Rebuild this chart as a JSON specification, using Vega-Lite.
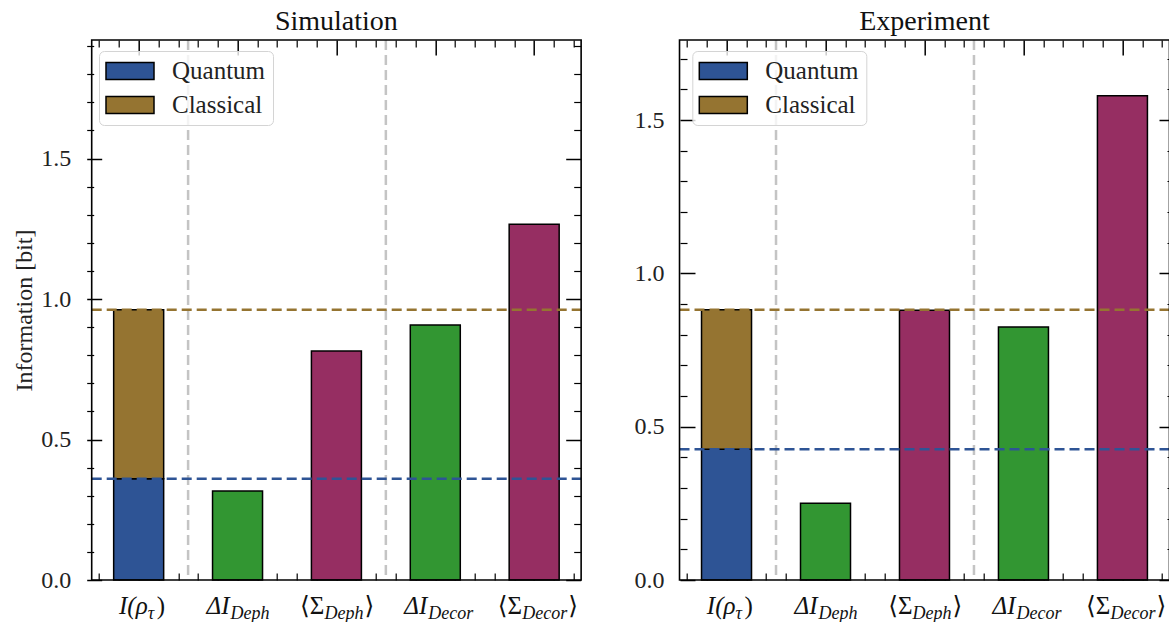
{
  "$schema": "https://vega.github.io/schema/vega-lite/v6.json",
  "autosize": {"type": "none"},
  "padding": {"left": 86.7, "top": 40, "right": 0, "bottom": 42},
  "width": 1082.3,
  "height": 540,
  "background": "white",
  "datasets": {
    "sim": [
      {"idx": 0, "part": "Quantum", "value": 0.3605},
      {"idx": 0, "part": "Classical", "value": 0.6015},
      {"idx": 1, "part": "ΔI", "value": 0.317},
      {"idx": 2, "part": "⟨Σ⟩", "value": 0.815},
      {"idx": 3, "part": "ΔI", "value": 0.9075},
      {"idx": 4, "part": "⟨Σ⟩", "value": 1.266}
    ],
    "exp": [
      {"idx": 0, "part": "Quantum", "value": 0.426},
      {"idx": 0, "part": "Classical", "value": 0.455},
      {"idx": 1, "part": "ΔI", "value": 0.25},
      {"idx": 2, "part": "⟨Σ⟩", "value": 0.88},
      {"idx": 3, "part": "ΔI", "value": 0.825},
      {"idx": 4, "part": "⟨Σ⟩", "value": 1.579}
    ],
    "simLevels": [{"level": "Quantum", "value": 0.3605}, {"level": "Total", "value": 0.962}],
    "expLevels": [{"level": "Quantum", "value": 0.426}, {"level": "Total", "value": 0.881}],
    "seps": [{"sep": 0.5}, {"sep": 2.5}],
    "labels": [
      {"idx": 0, "pre": "I(ρ", "sub": "τ", "post": ")"},
      {"idx": 1, "pre": "ΔI", "sub": "Deph", "post": ""},
      {"idx": 2, "pre": "⟨Σ", "sub": "Deph", "post": "⟩"},
      {"idx": 3, "pre": "ΔI", "sub": "Decor", "post": ""},
      {"idx": 4, "pre": "⟨Σ", "sub": "Decor", "post": "⟩"}
    ],
    "one": [{}]
  },
  "layer": [
    {
      "layer": [
        {
          "data": {"name": "sim"},
          "mark": {"type": "bar", "stroke": "black", "strokeWidth": 1.5, "width": 50},
          "encoding": {
            "x": {"field": "idx", "type": "quantitative", "scale": {"domain": [-0.475, 10.37], "nice": false, "zero": false},
                  "axis": {"orient": "bottom", "values": [0, 1, 2, 3, 4], "labels": false, "tickSize": -15, "tickWidth": 1.5, "domain": false, "title": null}},
            "y": {"field": "value", "type": "quantitative", "stack": "zero", "scale": {"domain": [0, 1.922], "nice": false},
                  "axis": {"orient": "left", "values": [0, 0.5, 1, 1.5], "format": ".1f", "labels": true, "tickSize": -15, "tickWidth": 1.5, "labelPadding": 31, "domain": false, "title": "Information [bit]", "titlePadding": 4}},
            "color": {"field": "part", "type": "nominal",
                      "scale": {"domain": ["Quantum", "Classical", "ΔI", "⟨Σ⟩"], "range": ["#2e5495", "#957431", "#329632", "#962e62"]},
                      "legend": {"values": ["Quantum", "Classical"], "orient": "none", "legendX": 12.3, "legendY": 11, "title": null, "symbolType": "M-2,-0.708H2V0.708H-2Z", "symbolSize": 576, "symbolOffset": 11, "symbolStrokeColor": "black", "symbolStrokeWidth": 1.5, "symbolOpacity": 1, "labelFont": "Liberation Serif, DejaVu Serif, serif", "labelFontSize": 25, "labelColor": "#222", "labelOffset": 29, "padding": 7, "strokeColor": "#d4d4d4", "fillColor": "rgba(255,255,255,0.8)", "cornerRadius": 5, "rowPadding": 8, "zindex": 2}},
            "order": {"field": "part", "sort": "descending"}
          }
        },
        {
          "data": {"name": "seps"},
          "mark": {"type": "rule", "color": "#c4c4c4", "strokeWidth": 2.5, "strokeDash": [10, 5]},
          "encoding": {"x": {"field": "sep", "type": "quantitative", "axis": {"orient": "top", "values": [0, 1, 2, 3, 4], "labels": false, "tickSize": -15, "tickWidth": 1.5, "domain": false, "title": null}}}
        },
        {
          "data": {"name": "simLevels"},
          "transform": [{"filter": "datum.level === 'Quantum'"}],
          "mark": {"type": "rule", "color": "#2e5495", "strokeWidth": 2.5, "strokeDash": [10, 5]},
          "encoding": {
            "x": {"datum": -0.475, "type": "quantitative", "axis": null},
            "x2": {"datum": 4.475},
            "y": {"field": "value", "type": "quantitative", "axis": {"orient": "right", "offset": -588.3, "values": [0, 0.5, 1, 1.5], "labels": false, "tickSize": -15, "tickWidth": 1.5, "domain": false, "title": null}}
          }
        },
        {
          "data": {"name": "simLevels"},
          "transform": [{"filter": "datum.level === 'Total'"}],
          "mark": {"type": "rule", "color": "#957431", "strokeWidth": 2.5, "strokeDash": [10, 5]},
          "encoding": {
            "x": {"datum": -0.475, "type": "quantitative", "axis": null},
            "x2": {"datum": 4.475},
            "y": {"field": "value", "type": "quantitative", "axis": {"orient": "left", "values": [0.1, 0.2, 0.3, 0.4, 0.6, 0.7, 0.8, 0.9, 1.1, 1.2, 1.3, 1.4, 1.6, 1.7, 1.8, 1.9], "labels": false, "tickSize": -7, "tickWidth": 1.2, "domain": false, "title": null}}
          }
        },
        {
          "data": {"name": "labels"},
          "transform": [{"filter": "datum.idx === 0"}],
          "mark": {"type": "text", "align": "right", "baseline": "alphabetic", "dx": 9, "dy": 34, "font": "Liberation Serif, DejaVu Serif, serif", "fontSize": 25, "fontStyle": "italic", "color": "#111"},
          "encoding": {
            "x": {"field": "idx", "type": "quantitative", "axis": {"orient": "bottom", "values": [-0.4, -0.2, 0.2, 0.4, 0.6, 0.8, 1.2, 1.4, 1.6, 1.8, 2.2, 2.4, 2.6, 2.8, 3.2, 3.4, 3.6, 3.8, 4.2, 4.4], "labels": false, "tickSize": -7, "tickWidth": 1.2, "domain": false, "title": null}},
            "y": {"datum": 0, "type": "quantitative", "axis": {"orient": "right", "offset": -588.3, "values": [0.1, 0.2, 0.3, 0.4, 0.6, 0.7, 0.8, 0.9, 1.1, 1.2, 1.3, 1.4, 1.6, 1.7, 1.8, 1.9], "labels": false, "tickSize": -7, "tickWidth": 1.2, "domain": false, "title": null}},
            "text": {"field": "pre"}
          }
        },
        {
          "data": {"name": "labels"},
          "transform": [{"filter": "datum.idx === 1 || datum.idx === 3"}],
          "mark": {"type": "text", "align": "right", "baseline": "alphabetic", "dx": -8, "dy": 34, "font": "Liberation Serif, DejaVu Serif, serif", "fontSize": 25, "fontStyle": "italic", "color": "#111"},
          "encoding": {
            "x": {"field": "idx", "type": "quantitative", "axis": {"orient": "top", "values": [-0.4, -0.2, 0.2, 0.4, 0.6, 0.8, 1.2, 1.4, 1.6, 1.8, 2.2, 2.4, 2.6, 2.8, 3.2, 3.4, 3.6, 3.8, 4.2, 4.4], "labels": false, "tickSize": -7, "tickWidth": 1.2, "domain": false, "title": null}},
            "y": {"datum": 0, "type": "quantitative", "axis": null},
            "text": {"field": "pre"}
          }
        },
        {
          "data": {"name": "labels"},
          "transform": [{"filter": "datum.idx === 2 || datum.idx === 4"}],
          "mark": {"type": "text", "align": "right", "baseline": "alphabetic", "dx": -12, "dy": 34, "font": "Liberation Serif, DejaVu Serif, serif", "fontSize": 25, "color": "#111"},
          "encoding": {
            "x": {"field": "idx", "type": "quantitative", "axis": null},
            "y": {"datum": 0, "type": "quantitative", "axis": null},
            "text": {"field": "pre"}
          }
        },
        {
          "data": {"name": "labels"},
          "transform": [{"filter": "datum.idx === 0"}],
          "mark": {"type": "text", "align": "left", "baseline": "alphabetic", "dx": 9, "dy": 39, "font": "Liberation Serif, DejaVu Serif, serif", "fontSize": 18, "fontStyle": "italic", "color": "#111"},
          "encoding": {
            "x": {"field": "idx", "type": "quantitative", "axis": null},
            "y": {"datum": 0, "type": "quantitative", "axis": null},
            "text": {"field": "sub"}
          }
        },
        {
          "data": {"name": "labels"},
          "transform": [{"filter": "datum.idx === 1 || datum.idx === 3"}],
          "mark": {"type": "text", "align": "left", "baseline": "alphabetic", "dx": -7, "dy": 39, "font": "Liberation Serif, DejaVu Serif, serif", "fontSize": 18, "fontStyle": "italic", "color": "#111"},
          "encoding": {
            "x": {"field": "idx", "type": "quantitative", "axis": null},
            "y": {"datum": 0, "type": "quantitative", "axis": null},
            "text": {"field": "sub"}
          }
        },
        {
          "data": {"name": "labels"},
          "transform": [{"filter": "datum.idx === 2 || datum.idx === 4"}],
          "mark": {"type": "text", "align": "left", "baseline": "alphabetic", "dx": -12, "dy": 39, "font": "Liberation Serif, DejaVu Serif, serif", "fontSize": 18, "fontStyle": "italic", "color": "#111"},
          "encoding": {
            "x": {"field": "idx", "type": "quantitative", "axis": null},
            "y": {"datum": 0, "type": "quantitative", "axis": null},
            "text": {"field": "sub"}
          }
        },
        {
          "data": {"name": "labels"},
          "transform": [{"filter": "datum.idx === 0"}],
          "mark": {"type": "text", "align": "left", "baseline": "alphabetic", "dx": 18, "dy": 34, "font": "Liberation Serif, DejaVu Serif, serif", "fontSize": 25, "color": "#111"},
          "encoding": {
            "x": {"field": "idx", "type": "quantitative", "axis": null},
            "y": {"datum": 0, "type": "quantitative", "axis": null},
            "text": {"field": "post"}
          }
        },
        {
          "data": {"name": "labels"},
          "transform": [{"filter": "datum.idx === 2"}],
          "mark": {"type": "text", "align": "left", "baseline": "alphabetic", "dx": 28, "dy": 34, "font": "Liberation Serif, DejaVu Serif, serif", "fontSize": 25, "color": "#111"},
          "encoding": {
            "x": {"field": "idx", "type": "quantitative", "axis": null},
            "y": {"datum": 0, "type": "quantitative", "axis": null},
            "text": {"field": "post"}
          }
        },
        {
          "data": {"name": "labels"},
          "transform": [{"filter": "datum.idx === 4"}],
          "mark": {"type": "text", "align": "left", "baseline": "alphabetic", "dx": 34, "dy": 34, "font": "Liberation Serif, DejaVu Serif, serif", "fontSize": 25, "color": "#111"},
          "encoding": {
            "x": {"field": "idx", "type": "quantitative", "axis": null},
            "y": {"datum": 0, "type": "quantitative", "axis": null},
            "text": {"field": "post"}
          }
        },
        {
          "data": {"name": "one"},
          "mark": {"type": "text", "align": "center", "baseline": "alphabetic", "dy": -10, "font": "Liberation Serif, DejaVu Serif, serif", "fontSize": 28, "color": "#111"},
          "encoding": {
            "x": {"datum": 2, "type": "quantitative", "axis": null},
            "y": {"datum": 1.922, "type": "quantitative", "axis": null},
            "text": {"value": "Simulation"}
          }
        },
        {
          "data": {"name": "one"},
          "mark": {"type": "rect", "fill": "transparent", "stroke": "black", "strokeWidth": 1.6},
          "encoding": {
            "x": {"datum": -0.475, "type": "quantitative", "axis": null},
            "x2": {"datum": 4.475},
            "y": {"datum": 0, "type": "quantitative", "axis": null},
            "y2": {"datum": 1.922}
          }
        }
      ],
      "resolve": {"axis": {"x": "independent", "y": "independent"}}
    },
    {
      "layer": [
        {
          "data": {"name": "exp"},
          "mark": {"type": "bar", "stroke": "black", "strokeWidth": 1.5, "width": 50},
          "encoding": {
            "x": {"field": "idx", "type": "quantitative", "scale": {"domain": [-6.414, 4.42], "nice": false, "zero": false},
                  "axis": {"orient": "bottom", "values": [0, 1, 2, 3, 4], "labels": false, "tickSize": -15, "tickWidth": 1.5, "domain": false, "title": null}},
            "y": {"field": "value", "type": "quantitative", "stack": "zero", "scale": {"domain": [0, 1.761], "nice": false},
                  "axis": {"orient": "left", "offset": -593.3, "values": [0, 0.5, 1, 1.5], "format": ".1f", "labels": true, "tickSize": -15, "tickWidth": 1.5, "labelPadding": 31, "domain": false, "title": null}},
            "color": {"field": "part", "type": "nominal",
                      "scale": {"domain": ["Quantum", "Classical", "ΔI", "⟨Σ⟩"], "range": ["#2e5495", "#957431", "#329632", "#962e62"]},
                      "legend": {"values": ["Quantum", "Classical"], "orient": "none", "legendX": 605.6, "legendY": 11, "title": null, "symbolType": "M-2,-0.708H2V0.708H-2Z", "symbolSize": 576, "symbolOffset": 11, "symbolStrokeColor": "black", "symbolStrokeWidth": 1.5, "symbolOpacity": 1, "labelFont": "Liberation Serif, DejaVu Serif, serif", "labelFontSize": 25, "labelColor": "#222", "labelOffset": 29, "padding": 7, "strokeColor": "#d4d4d4", "fillColor": "rgba(255,255,255,0.8)", "cornerRadius": 5, "rowPadding": 8, "zindex": 2}},
            "order": {"field": "part", "sort": "descending"}
          }
        },
        {
          "data": {"name": "seps"},
          "mark": {"type": "rule", "color": "#c4c4c4", "strokeWidth": 2.5, "strokeDash": [10, 5]},
          "encoding": {"x": {"field": "sep", "type": "quantitative", "axis": {"orient": "top", "values": [0, 1, 2, 3, 4], "labels": false, "tickSize": -15, "tickWidth": 1.5, "domain": false, "title": null}}}
        },
        {
          "data": {"name": "expLevels"},
          "transform": [{"filter": "datum.level === 'Quantum'"}],
          "mark": {"type": "rule", "color": "#2e5495", "strokeWidth": 2.5, "strokeDash": [10, 5]},
          "encoding": {
            "x": {"datum": -0.475, "type": "quantitative", "axis": null},
            "x2": {"datum": 4.475},
            "y": {"field": "value", "type": "quantitative", "axis": {"orient": "right", "offset": 5, "values": [0, 0.5, 1, 1.5], "labels": false, "tickSize": -15, "tickWidth": 1.5, "domain": false, "title": null}}
          }
        },
        {
          "data": {"name": "expLevels"},
          "transform": [{"filter": "datum.level === 'Total'"}],
          "mark": {"type": "rule", "color": "#957431", "strokeWidth": 2.5, "strokeDash": [10, 5]},
          "encoding": {
            "x": {"datum": -0.475, "type": "quantitative", "axis": null},
            "x2": {"datum": 4.475},
            "y": {"field": "value", "type": "quantitative", "axis": {"orient": "left", "offset": -593.3, "values": [0.1, 0.2, 0.3, 0.4, 0.6, 0.7, 0.8, 0.9, 1.1, 1.2, 1.3, 1.4, 1.6, 1.7], "labels": false, "tickSize": -7, "tickWidth": 1.2, "domain": false, "title": null}}
          }
        },
        {
          "data": {"name": "labels"},
          "transform": [{"filter": "datum.idx === 0"}],
          "mark": {"type": "text", "align": "right", "baseline": "alphabetic", "dx": 9, "dy": 34, "font": "Liberation Serif, DejaVu Serif, serif", "fontSize": 25, "fontStyle": "italic", "color": "#111"},
          "encoding": {
            "x": {"field": "idx", "type": "quantitative", "axis": {"orient": "bottom", "values": [-0.4, -0.2, 0.2, 0.4, 0.6, 0.8, 1.2, 1.4, 1.6, 1.8, 2.2, 2.4, 2.6, 2.8, 3.2, 3.4, 3.6, 3.8, 4.2, 4.4], "labels": false, "tickSize": -7, "tickWidth": 1.2, "domain": false, "title": null}},
            "y": {"datum": 0, "type": "quantitative", "axis": {"orient": "right", "offset": 5, "values": [0.1, 0.2, 0.3, 0.4, 0.6, 0.7, 0.8, 0.9, 1.1, 1.2, 1.3, 1.4, 1.6, 1.7], "labels": false, "tickSize": -7, "tickWidth": 1.2, "domain": false, "title": null}},
            "text": {"field": "pre"}
          }
        },
        {
          "data": {"name": "labels"},
          "transform": [{"filter": "datum.idx === 1 || datum.idx === 3"}],
          "mark": {"type": "text", "align": "right", "baseline": "alphabetic", "dx": -8, "dy": 34, "font": "Liberation Serif, DejaVu Serif, serif", "fontSize": 25, "fontStyle": "italic", "color": "#111"},
          "encoding": {
            "x": {"field": "idx", "type": "quantitative", "axis": {"orient": "top", "values": [-0.4, -0.2, 0.2, 0.4, 0.6, 0.8, 1.2, 1.4, 1.6, 1.8, 2.2, 2.4, 2.6, 2.8, 3.2, 3.4, 3.6, 3.8, 4.2, 4.4], "labels": false, "tickSize": -7, "tickWidth": 1.2, "domain": false, "title": null}},
            "y": {"datum": 0, "type": "quantitative", "axis": null},
            "text": {"field": "pre"}
          }
        },
        {
          "data": {"name": "labels"},
          "transform": [{"filter": "datum.idx === 2 || datum.idx === 4"}],
          "mark": {"type": "text", "align": "right", "baseline": "alphabetic", "dx": -12, "dy": 34, "font": "Liberation Serif, DejaVu Serif, serif", "fontSize": 25, "color": "#111"},
          "encoding": {
            "x": {"field": "idx", "type": "quantitative", "axis": null},
            "y": {"datum": 0, "type": "quantitative", "axis": null},
            "text": {"field": "pre"}
          }
        },
        {
          "data": {"name": "labels"},
          "transform": [{"filter": "datum.idx === 0"}],
          "mark": {"type": "text", "align": "left", "baseline": "alphabetic", "dx": 9, "dy": 39, "font": "Liberation Serif, DejaVu Serif, serif", "fontSize": 18, "fontStyle": "italic", "color": "#111"},
          "encoding": {
            "x": {"field": "idx", "type": "quantitative", "axis": null},
            "y": {"datum": 0, "type": "quantitative", "axis": null},
            "text": {"field": "sub"}
          }
        },
        {
          "data": {"name": "labels"},
          "transform": [{"filter": "datum.idx === 1 || datum.idx === 3"}],
          "mark": {"type": "text", "align": "left", "baseline": "alphabetic", "dx": -7, "dy": 39, "font": "Liberation Serif, DejaVu Serif, serif", "fontSize": 18, "fontStyle": "italic", "color": "#111"},
          "encoding": {
            "x": {"field": "idx", "type": "quantitative", "axis": null},
            "y": {"datum": 0, "type": "quantitative", "axis": null},
            "text": {"field": "sub"}
          }
        },
        {
          "data": {"name": "labels"},
          "transform": [{"filter": "datum.idx === 2 || datum.idx === 4"}],
          "mark": {"type": "text", "align": "left", "baseline": "alphabetic", "dx": -12, "dy": 39, "font": "Liberation Serif, DejaVu Serif, serif", "fontSize": 18, "fontStyle": "italic", "color": "#111"},
          "encoding": {
            "x": {"field": "idx", "type": "quantitative", "axis": null},
            "y": {"datum": 0, "type": "quantitative", "axis": null},
            "text": {"field": "sub"}
          }
        },
        {
          "data": {"name": "labels"},
          "transform": [{"filter": "datum.idx === 0"}],
          "mark": {"type": "text", "align": "left", "baseline": "alphabetic", "dx": 18, "dy": 34, "font": "Liberation Serif, DejaVu Serif, serif", "fontSize": 25, "color": "#111"},
          "encoding": {
            "x": {"field": "idx", "type": "quantitative", "axis": null},
            "y": {"datum": 0, "type": "quantitative", "axis": null},
            "text": {"field": "post"}
          }
        },
        {
          "data": {"name": "labels"},
          "transform": [{"filter": "datum.idx === 2"}],
          "mark": {"type": "text", "align": "left", "baseline": "alphabetic", "dx": 28, "dy": 34, "font": "Liberation Serif, DejaVu Serif, serif", "fontSize": 25, "color": "#111"},
          "encoding": {
            "x": {"field": "idx", "type": "quantitative", "axis": null},
            "y": {"datum": 0, "type": "quantitative", "axis": null},
            "text": {"field": "post"}
          }
        },
        {
          "data": {"name": "labels"},
          "transform": [{"filter": "datum.idx === 4"}],
          "mark": {"type": "text", "align": "left", "baseline": "alphabetic", "dx": 34, "dy": 34, "font": "Liberation Serif, DejaVu Serif, serif", "fontSize": 25, "color": "#111"},
          "encoding": {
            "x": {"field": "idx", "type": "quantitative", "axis": null},
            "y": {"datum": 0, "type": "quantitative", "axis": null},
            "text": {"field": "post"}
          }
        },
        {
          "data": {"name": "one"},
          "mark": {"type": "text", "align": "center", "baseline": "alphabetic", "dy": -10, "font": "Liberation Serif, DejaVu Serif, serif", "fontSize": 28, "color": "#111"},
          "encoding": {
            "x": {"datum": 2, "type": "quantitative", "axis": null},
            "y": {"datum": 1.761, "type": "quantitative", "axis": null},
            "text": {"value": "Experiment"}
          }
        },
        {
          "data": {"name": "one"},
          "mark": {"type": "rect", "fill": "transparent", "stroke": "black", "strokeWidth": 1.6},
          "encoding": {
            "x": {"datum": -0.475, "type": "quantitative", "axis": null},
            "x2": {"datum": 4.475},
            "y": {"datum": 0, "type": "quantitative", "axis": null},
            "y2": {"datum": 1.761}
          }
        }
      ],
      "resolve": {"axis": {"x": "independent", "y": "independent"}}
    }
  ],
  "resolve": {
    "scale": {"x": "independent", "y": "independent", "color": "independent"},
    "axis": {"x": "independent", "y": "independent"},
    "legend": {"color": "independent"}
  },
  "config": {
    "view": {"stroke": null},
    "font": "Liberation Serif, DejaVu Serif, serif",
    "axis": {"grid": false, "zindex": 1, "tickColor": "black", "domainColor": "black", "labelFont": "Liberation Serif, DejaVu Serif, serif", "labelFontSize": 24, "labelColor": "#222", "titleFont": "Liberation Serif, DejaVu Serif, serif", "titleFontSize": 24, "titleFontWeight": "normal", "titleColor": "#222", "labelFlush": false, "labelOverlap": false}
  }
}
